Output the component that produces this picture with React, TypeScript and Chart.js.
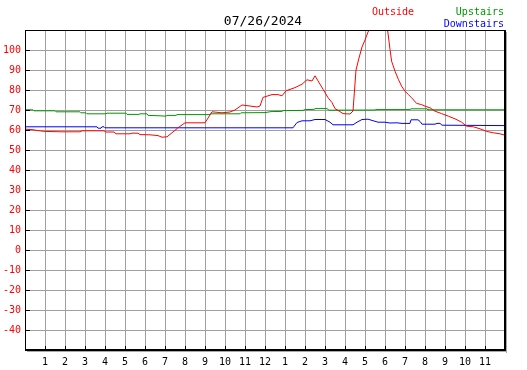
import React, { useEffect, useRef } from "react";
import { Chart, registerables } from "chart.js";

Chart.register(...registerables);

const titleText = "07/26/2024";
const seriesNames = ["Outside", "Upstairs", "Downstairs"];
const seriesColors = ["#ff0000", "#009600", "#0000ff"];

const yMin = -50;
const yMax = 110;
const yStep = 10;
const yLabelMin = -40;
const yLabelMax = 100;
const xMin = 0;
const xMax = 24;
const hourLabels = [
  "", "1", "2", "3", "4", "5", "6", "7", "8", "9", "10", "11", "12",
  "1", "2", "3", "4", "5", "6", "7", "8", "9", "10", "11", "",
];

const outsideHours = [
  0, 0.35, 0.65, 1.0, 1.8, 2.75, 2.85, 3.95, 4.05, 4.45, 4.55, 5.25, 5.35, 5.65,
  5.75, 6.25, 6.65, 6.85, 7.1, 7.35, 7.65, 8.0, 9.0, 9.35, 9.65, 9.85, 10.25,
  10.5, 10.85, 11.25, 11.6, 11.75, 11.9, 12.35, 12.65, 12.85, 13.05, 13.5, 13.85,
  14.1, 14.35, 14.5, 14.65, 14.9, 15.15, 15.35, 15.5, 15.65, 15.9, 16.25, 16.4,
  16.55, 16.7, 16.85, 17.0, 17.15, 17.55, 17.85, 18.13, 18.25, 18.33, 18.5,
  18.67, 18.83, 19.0, 19.17, 19.33, 19.58, 19.83, 20.0, 20.25, 20.5, 20.83,
  21.17, 21.5, 21.83, 22.08, 22.42, 22.75, 23.08, 23.42, 23.75, 24.0,
];
const outsideTemps = [
  60.4, 60.2, 59.7, 59.3, 59.1, 59.1, 59.6, 59.6, 59.0, 59.0, 58.1, 58.1, 58.4, 58.4,
  57.7, 57.6, 57.2, 56.4, 56.6, 58.6, 61.1, 63.6, 63.6, 69.1, 68.8, 68.6, 69.0,
  70.0, 72.5, 72.0, 71.5, 72.0, 76.3, 77.7, 77.7, 77.1, 79.6, 81.2, 82.9,
  85.1, 84.5, 87.1, 84.6, 80.4, 76.2, 73.7, 70.7, 69.8, 68.2, 68.0, 69.5,
  90.0, 96.0, 101.5, 105.0, 109.0, 117.0, 118.0, 110.0, 100.3, 94.4, 89.4,
  85.3, 81.9, 79.4, 77.7, 76.1, 73.3, 72.7, 71.9, 71.1, 69.4, 68.2,
  66.9, 65.6, 63.9, 61.9, 61.6, 60.6, 59.3, 58.6, 58.1, 57.4,
];

const upstairsHours = [
  0, 0.4, 0.45, 1.5, 1.55, 2.75, 2.8, 3.05, 3.1, 4.05, 4.1, 5.05, 5.1, 5.7, 5.75,
  6.1, 6.15, 6.75, 7.05, 7.1, 7.55, 7.6, 9.25, 9.3, 10.75, 10.8, 12.0, 12.3,
  12.85, 12.9, 13.9, 14.0, 14.45, 14.5, 15.1, 15.2, 17.5, 17.55, 19.25, 19.3,
  20.1, 20.15, 24.0,
];
const upstairsTemps = [
  70.1, 70.1, 69.6, 69.6, 69.1, 69.1, 68.6, 68.6, 68.1, 68.1, 68.4, 68.4, 67.8, 67.8, 68.1,
  68.1, 67.3, 67.1, 66.9, 67.3, 67.3, 67.7, 67.7, 68.1, 68.1, 68.6, 68.7, 69.2,
  69.3, 69.7, 69.8, 70.2, 70.3, 70.7, 70.7, 69.9, 70.0, 70.2, 70.2, 70.6,
  70.6, 70.1, 70.1,
];

const downstairsHours = [
  0, 3.6, 3.65, 3.8, 3.85, 3.95, 4.0, 13.4, 13.6, 13.85, 14.25, 14.5, 15.0, 15.25,
  15.4, 16.4, 16.6, 16.85, 17.15, 17.35, 17.65, 18.0, 18.25, 18.6, 18.85, 19.25,
  19.3, 19.65, 19.75, 19.85, 20.5, 20.6, 20.75, 20.85, 24.0,
];
const downstairsTemps = [
  61.6, 61.6, 60.9, 60.9, 61.6, 61.6, 61.1, 61.1, 63.75, 64.6, 64.6, 65.25, 65.25, 63.9,
  62.6, 62.6, 63.9, 65.25, 65.4, 64.8, 63.9, 63.9, 63.5, 63.6, 63.3, 63.3,
  65.1, 65.1, 64.3, 62.9, 62.9, 63.3, 63.3, 62.4, 62.2,
];

const FONT = '"DejaVu Sans Mono", "Liberation Mono", monospace';

function toPoints(xs: number[], ys: number[]) {
  return xs.map((x, i) => ({ x, y: ys[i] }));
}

const framePlugin = {
  id: "frame",
  afterDatasetsDraw(chart: any) {
    const { ctx, chartArea, scales } = chart;
    const { left, right, top, bottom } = chartArea;
    ctx.save();
    // shadow
    ctx.fillStyle = "#a8a8a8";
    ctx.fillRect(right + 1, top + 2, 1, bottom - top + 1);
    ctx.fillRect(left + 2, bottom + 1, right - left, 1);
    // border
    ctx.fillStyle = "#000000";
    ctx.fillRect(left, top, right - left + 1, 1);
    ctx.fillRect(left, top, 1, bottom - top + 1);
    ctx.fillRect(right - 1, top, 2, bottom - top + 1);
    ctx.fillRect(left, bottom - 1, right - left + 1, 2);
    // inward ticks
    for (let v = yLabelMin; v <= yLabelMax; v += yStep) {
      const py = Math.round(scales.y.getPixelForValue(v));
      ctx.fillRect(left + 1, py, 4, 1);
    }
    for (let h = xMin + 1; h < xMax; h++) {
      const px = Math.round(scales.x.getPixelForValue(h));
      ctx.fillRect(px, bottom - 4, 1, 3);
    }
    ctx.restore();
  },
  afterDraw(chart: any) {
    const { ctx } = chart;
    ctx.save();
    ctx.textBaseline = "alphabetic";
    ctx.font = `13px ${FONT}`;
    ctx.fillStyle = "#000000";
    ctx.textAlign = "center";
    ctx.fillText(titleText, 263, 25);
    ctx.font = `10px ${FONT}`;
    ctx.fillStyle = seriesColors[0];
    ctx.textAlign = "center";
    ctx.fillText(seriesNames[0], 393, 15);
    ctx.textAlign = "right";
    ctx.fillStyle = seriesColors[1];
    ctx.fillText(seriesNames[1], 504, 15);
    ctx.fillStyle = seriesColors[2];
    ctx.fillText(seriesNames[2], 504, 27);
    ctx.restore();
  },
};

export default function App() {
  const canvasRef = useRef<HTMLCanvasElement | null>(null);

  useEffect(() => {
    const canvas = canvasRef.current;
    if (!canvas) return;
    const chart = new Chart(canvas, {
      type: "line",
      data: {
        datasets: [
          {
            label: seriesNames[0],
            data: toPoints(outsideHours, outsideTemps),
            borderColor: seriesColors[0],
            borderWidth: 1,
            pointRadius: 0,
            tension: 0,
            fill: false,
          },
          {
            label: seriesNames[1],
            data: toPoints(upstairsHours, upstairsTemps),
            borderColor: seriesColors[1],
            borderWidth: 1,
            pointRadius: 0,
            tension: 0,
            fill: false,
          },
          {
            label: seriesNames[2],
            data: toPoints(downstairsHours, downstairsTemps),
            borderColor: seriesColors[2],
            borderWidth: 1,
            pointRadius: 0,
            tension: 0,
            fill: false,
          },
        ],
      },
      options: {
        responsive: false,
        animation: false,
        devicePixelRatio: 1,
        layout: { padding: { top: 30, right: 22, left: 0, bottom: 0 } },
        plugins: {
          legend: { display: false },
          title: { display: false },
          tooltip: { enabled: false },
        },
        scales: {
          x: {
            type: "linear",
            min: xMin,
            max: xMax,
            afterFit: (s: any) => {
              s.height = 20;
            },
            ticks: {
              stepSize: 1,
              autoSkip: false,
              maxRotation: 0,
              color: "#000000",
              font: { family: FONT, size: 10 },
              padding: 6,
              callback: (v: any) => hourLabels[Math.round(Number(v))] ?? "",
            },
            grid: { color: "#a0a0a0", lineWidth: 1, drawTicks: false },
            border: { display: false },
          },
          y: {
            type: "linear",
            min: yMin,
            max: yMax,
            afterFit: (s: any) => {
              s.width = 25;
            },
            ticks: {
              stepSize: yStep,
              autoSkip: false,
              color: "#ff0000",
              font: { family: FONT, size: 10 },
              padding: 4,
              callback: (v: any) => {
                const n = Number(v);
                return n < yLabelMin || n > yLabelMax ? "" : String(n);
              },
            },
            grid: { color: "#a0a0a0", lineWidth: 1, drawTicks: false },
            border: { display: false },
          },
        },
      },
      plugins: [framePlugin],
    });
    return () => chart.destroy();
  }, []);

  return (
    <div style={{ position: "fixed", left: 0, top: 0, width: 527, height: 370, background: "#ffffff" }}>
      <canvas ref={canvasRef} width={527} height={370} style={{ width: 527, height: 370, display: "block" }} />
    </div>
  );
}
